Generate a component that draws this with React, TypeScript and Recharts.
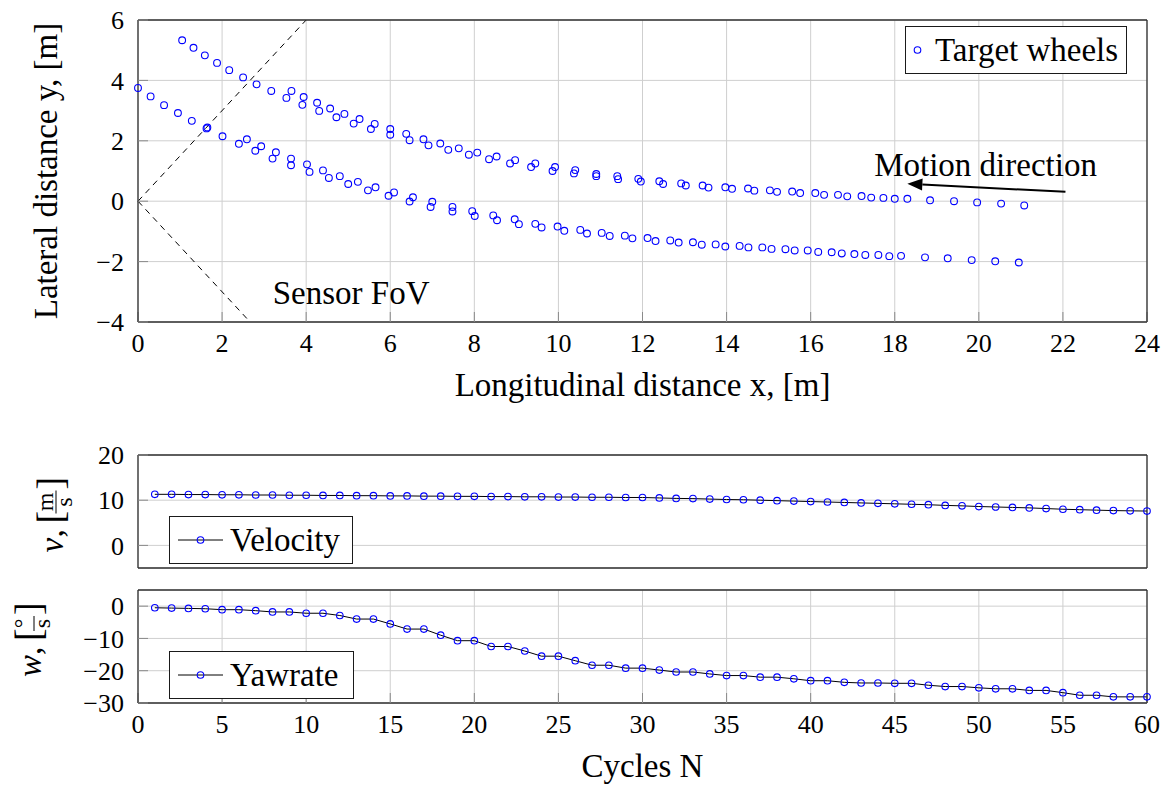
import React from 'react';
import {
  ScatterChart, Scatter, LineChart, Line, XAxis, YAxis, CartesianGrid,
  ReferenceLine, ReferenceDot, Legend,
} from 'recharts';

// ---------- Top chart data ----------
const wheelUpperX = [1.05, 1.32, 1.59, 1.88, 2.17, 2.5, 2.82, 3.17, 3.53, 3.65, 3.91, 3.94, 4.26, 4.31, 4.57, 4.72, 4.91, 5.13, 5.27, 5.54, 5.63, 6.0, 6.0, 6.38, 6.46, 6.79, 6.91, 7.19, 7.38, 7.63, 7.87, 8.07, 8.35, 8.53, 8.85, 8.97, 9.35, 9.45, 9.86, 9.92, 10.37, 10.4, 10.9, 10.9, 11.4, 11.42, 11.9, 11.96, 12.4, 12.49, 12.92, 13.03, 13.43, 13.57, 13.97, 14.13, 14.51, 14.66, 15.03, 15.2, 15.56, 15.75, 16.11, 16.32, 16.65, 16.87, 17.21, 17.44, 17.73, 18.0, 18.3, 18.84, 19.41, 19.96, 20.53, 21.08];
const wheelUpperY = [5.33, 5.08, 4.83, 4.58, 4.34, 4.1, 3.87, 3.65, 3.42, 3.65, 3.19, 3.45, 3.26, 2.99, 3.07, 2.78, 2.89, 2.57, 2.72, 2.39, 2.56, 2.39, 2.2, 2.23, 2.02, 2.05, 1.85, 1.91, 1.7, 1.75, 1.54, 1.61, 1.39, 1.48, 1.25, 1.36, 1.13, 1.25, 1.0, 1.13, 0.92, 1.03, 0.83, 0.9, 0.83, 0.73, 0.74, 0.65, 0.66, 0.57, 0.59, 0.52, 0.52, 0.45, 0.46, 0.41, 0.42, 0.35, 0.36, 0.31, 0.32, 0.27, 0.27, 0.21, 0.21, 0.16, 0.17, 0.12, 0.11, 0.08, 0.08, 0.03, 0.0, -0.04, -0.08, -0.14];
const wheelLowerX = [0.0, 0.3, 0.62, 0.95, 1.28, 1.63, 1.65, 2.01, 2.4, 2.59, 2.79, 2.93, 3.2, 3.28, 3.64, 3.64, 4.02, 4.08, 4.4, 4.54, 4.8, 5.0, 5.23, 5.47, 5.65, 5.96, 6.09, 6.46, 6.54, 6.96, 7.0, 7.48, 7.48, 7.95, 8.01, 8.45, 8.54, 8.96, 9.06, 9.45, 9.6, 9.98, 10.14, 10.52, 10.68, 11.03, 11.22, 11.58, 11.76, 12.12, 12.31, 12.66, 12.86, 13.2, 13.41, 13.74, 13.97, 14.31, 14.52, 14.85, 15.07, 15.4, 15.62, 15.93, 16.18, 16.5, 16.74, 17.04, 17.3, 17.61, 17.87, 18.15, 18.72, 19.26, 19.83, 20.39, 20.95];
const wheelLowerY = [3.75, 3.47, 3.18, 2.92, 2.66, 2.41, 2.44, 2.15, 1.9, 2.05, 1.67, 1.82, 1.41, 1.62, 1.19, 1.41, 1.22, 0.97, 1.02, 0.77, 0.83, 0.57, 0.64, 0.36, 0.46, 0.18, 0.29, -0.01, 0.13, -0.19, -0.02, -0.19, -0.34, -0.33, -0.49, -0.47, -0.63, -0.6, -0.76, -0.75, -0.87, -0.84, -0.98, -0.95, -1.07, -1.05, -1.15, -1.14, -1.23, -1.22, -1.32, -1.3, -1.37, -1.36, -1.44, -1.43, -1.5, -1.48, -1.53, -1.53, -1.58, -1.59, -1.63, -1.63, -1.68, -1.69, -1.73, -1.75, -1.78, -1.78, -1.82, -1.81, -1.86, -1.89, -1.95, -1.99, -2.03];

const fovUpper = [{ x: 0, y: 0 }, { x: 4, y: 6 }];
const fovLower = [{ x: 0, y: 0 }, { x: 2.667, y: -4 }];
const motionArrow = [{ x: 22.06, y: 0.31 }, { x: 18.3, y: 0.58 }];
const motionLabel = { x: 20.16, y: 0.83, text: 'Motion direction' };
const fovLabel = { x: 5.07, y: -3.39, text: 'Sensor FoV' };

const topXTicks = [0, 2, 4, 6, 8, 10, 12, 14, 16, 18, 20, 22, 24];
const topYTicks = [-4, -2, 0, 2, 4, 6];

// ---------- Bottom charts data ----------
const cycles = [1, 2, 3, 4, 5, 6, 7, 8, 9, 10, 11, 12, 13, 14, 15, 16, 17, 18, 19, 20, 21, 22, 23, 24, 25, 26, 27, 28, 29, 30, 31, 32, 33, 34, 35, 36, 37, 38, 39, 40, 41, 42, 43, 44, 45, 46, 47, 48, 49, 50, 51, 52, 53, 54, 55, 56, 57, 58, 59, 60];
const velocity = [11.3, 11.3, 11.25, 11.25, 11.2, 11.2, 11.15, 11.15, 11.1, 11.1, 11.05, 11.05, 11.0, 11.0, 10.95, 10.95, 10.9, 10.9, 10.85, 10.85, 10.8, 10.8, 10.75, 10.75, 10.7, 10.7, 10.65, 10.65, 10.6, 10.6, 10.5, 10.4, 10.35, 10.25, 10.15, 10.1, 10.0, 9.9, 9.8, 9.7, 9.6, 9.5, 9.4, 9.3, 9.2, 9.1, 9.0, 8.85, 8.75, 8.6, 8.5, 8.4, 8.3, 8.15, 8.0, 7.9, 7.8, 7.7, 7.65, 7.6];
const yawrate = [-0.5, -0.6, -0.7, -0.8, -1.1, -1.1, -1.4, -1.8, -1.8, -2.2, -2.2, -2.9, -4.0, -4.0, -5.5, -7.1, -7.1, -9.0, -10.7, -10.7, -12.5, -12.5, -13.9, -15.5, -15.5, -16.9, -18.3, -18.3, -19.2, -19.2, -19.8, -20.4, -20.4, -21.0, -21.5, -21.5, -22.0, -22.0, -22.5, -23.1, -23.1, -23.6, -23.8, -23.8, -23.9, -23.9, -24.5, -24.9, -24.9, -25.3, -25.6, -25.6, -26.1, -26.1, -26.8, -27.6, -27.6, -28.1, -28.1, -28.1];
const cycleTicks = [0, 5, 10, 15, 20, 25, 30, 35, 40, 45, 50, 55, 60];
const velTicks = [0, 10, 20];
const yawTicks = [-30, -20, -10, 0];

// ---------- styling ----------
const FONT = "'Liberation Serif', 'Times New Roman', serif";
const BLUE = '#0000ff';
const GRID = '#cfcfcf';
const FRAME = '#303030';
const TICKC = '#8a8a8a';
const tickStyle = { fontSize: 26, fill: '#000', fontFamily: FONT };
const fmt = (v: number) => String(v).replace('-', '\u2212');

const upperData = wheelUpperX.map((x, i) => ({ x, y: wheelUpperY[i] }));
const lowerData = wheelLowerX.map((x, i) => ({ x, y: wheelLowerY[i] }));
const seriesData = cycles.map((n, i) => ({ n, v: velocity[i], w: yawrate[i] }));

const OpenCircle = (p: any) => (
  <circle cx={p.cx} cy={p.cy} r={3.4} fill="none" stroke={BLUE} strokeWidth={1.1} />
);

const Arrow = (p: any) => {
  const { x1, y1, x2, y2 } = p;
  const dx = x2 - x1, dy = y2 - y1;
  const len = Math.sqrt(dx * dx + dy * dy) || 1;
  const ux = dx / len, uy = dy / len;
  const hl = 15, hw = 6;
  const bx = x2 - ux * hl, by = y2 - uy * hl;
  return (
    <g>
      <line x1={x1} y1={y1} x2={bx} y2={by} stroke="#000" strokeWidth={2} />
      <polygon
        points={`${x2},${y2} ${bx - uy * hw},${by + ux * hw} ${bx + uy * hw},${by - ux * hw}`}
        fill="#000"
      />
    </g>
  );
};

const Dashed = (p: any) => (
  <line x1={p.x1} y1={p.y1} x2={p.x2} y2={p.y2} stroke="#000" strokeWidth={1} strokeDasharray="6 5" />
);

const textLabel = (text: string) => (props: any) => {
  const vb = props.viewBox || {};
  return (
    <text x={vb.x} y={vb.y} textAnchor="middle" fontFamily={FONT} fontSize={33} fill="#000">
      {text}
    </text>
  );
};

const xLabel = (text: string) => (props: any) => {
  const vb = props.viewBox || {};
  return (
    <text x={vb.x + vb.width / 2} y={vb.y + vb.height} textAnchor="middle" fontFamily={FONT} fontSize={33} fill="#000">
      {text}
    </text>
  );
};

const yLabel = (text: string, baseX: number) => (props: any) => {
  const vb = props.viewBox || {};
  const cy = vb.y + vb.height / 2;
  return (
    <text transform={`translate(${vb.x + baseX},${cy}) rotate(-90)`} textAnchor="middle" fontFamily={FONT} fontSize={33} fill="#000">
      {text}
    </text>
  );
};

// rotated label with a small fraction: sym, [num/den]
const fracLabel = (sym: string, symW: number, num: string, numW: number, baseX: number, shift: number) => (props: any) => {
  const vb = props.viewBox || {};
  const cy = vb.y + vb.height / 2 + shift;
  const fracW = Math.max(numW, 11) + 4;
  const total = symW + 8 + 6 + 10 + fracW + 10 + 6;
  let x = -total / 2;
  const symX = x; x += symW;
  const commaX = x; x += 8 + 6;
  const lbX = x; x += 10;
  const fx = x; x += fracW + 1;
  const rbX = x;
  const fc = fx + fracW / 2;
  return (
    <g transform={`translate(${vb.x + baseX},${cy}) rotate(-90)`} fontFamily={FONT} fill="#000">
      <text x={symX} y={0} fontSize={33} fontStyle="italic">{sym}</text>
      <text x={commaX} y={0} fontSize={33}>,</text>
      <text x={lbX} y={0} fontSize={38}>[</text>
      <text x={fc} y={-10} fontSize={24} textAnchor="middle">{num}</text>
      <line x1={fx} x2={fx + fracW} y1={-7} y2={-7} stroke="#000" strokeWidth={1} />
      <text x={fc} y={9} fontSize={24} textAnchor="middle">s</text>
      <text x={rbX} y={0} fontSize={38}>]</text>
    </g>
  );
};

const LegendBox = ({ width, line, text }: { width: number; line: boolean; text: string }) => (
  <div
    style={{
      width, height: 48, boxSizing: 'border-box', border: '1.3px solid #1a1a1a', background: '#fff',
      display: 'flex', alignItems: 'center', fontFamily: FONT, fontSize: 33, lineHeight: '33px', color: '#000',
    }}
  >
    <svg width={line ? 58 : 22} height={20} style={{ marginLeft: line ? 8 : 6, flex: 'none' }}>
      {line && <line x1={0} x2={45} y1={10} y2={10} stroke="#000" strokeWidth={1} />}
      <circle cx={line ? 22.5 : 5.5} cy={10} r={3.3} fill="none" stroke={BLUE} strokeWidth={1.1} />
    </svg>
    <span style={{ marginLeft: line ? -6 : 1, whiteSpace: 'nowrap' }}>{text}</span>
  </div>
);

const dotRenderer = (p: any) => (
  <circle key={`d${p.index}`} cx={p.cx} cy={p.cy} r={3.3} fill="none" stroke={BLUE} strokeWidth={1.1} />
);

const axisLineStyle = { stroke: FRAME, strokeWidth: 1.3 };
const tickLineStyle = { stroke: TICKC, strokeWidth: 1 };

export default function App() {
  return (
    <div style={{ position: 'absolute', left: 0, top: 0, width: 1169, height: 785, background: '#fff', fontFamily: FONT }}>
      {/* ---------------- Top: target wheels ---------------- */}
      <div style={{ position: 'absolute', left: 0, top: 0 }}>
        <ScatterChart width={1169} height={410} margin={{ top: 19, right: 21, bottom: 14, left: 0 }}>
          <CartesianGrid stroke={GRID} strokeWidth={1} />
          <XAxis
            type="number" dataKey="x" domain={[0, 24]} ticks={topXTicks} height={74}
            axisLine={axisLineStyle} tickLine={tickLineStyle} tickSize={-10} tickMargin={22}
            tick={tickStyle} tickFormatter={fmt} interval={0}
            label={xLabel('Longitudinal distance x, [m]')}
          />
          <XAxis
            xAxisId="top" orientation="top" type="number" domain={[0, 24]} ticks={topXTicks} height={1}
            axisLine={axisLineStyle} tickLine={tickLineStyle} tickSize={-10} tick={false} interval={0}
          />
          <YAxis
            type="number" dataKey="y" domain={[-4, 6]} ticks={topYTicks} width={138}
            axisLine={axisLineStyle} tickLine={tickLineStyle} tickSize={-10} tickMargin={24}
            tick={tickStyle} tickFormatter={fmt} interval={0}
            label={yLabel('Lateral distance y, [m]', 57)}
          />
          <YAxis
            yAxisId="right" orientation="right" type="number" domain={[-4, 6]} ticks={topYTicks} width={1}
            axisLine={axisLineStyle} tickLine={tickLineStyle} tickSize={-10} tick={false} interval={0}
          />
          <ReferenceLine segment={fovUpper} shape={Dashed} ifOverflow="visible" />
          <ReferenceLine segment={fovLower} shape={Dashed} ifOverflow="visible" />
          <ReferenceLine segment={motionArrow} shape={Arrow} ifOverflow="visible" />
          <ReferenceDot x={motionLabel.x} y={motionLabel.y} r={0} stroke="none" fill="none" label={textLabel(motionLabel.text)} />
          <ReferenceDot x={fovLabel.x} y={fovLabel.y} r={0} stroke="none" fill="none" label={textLabel(fovLabel.text)} />
          <Scatter name="Target wheels" data={upperData} shape={OpenCircle} isAnimationActive={false} />
          <Scatter name="Target wheels lower" data={lowerData} shape={OpenCircle} isAnimationActive={false} legendType="none" />
          <Legend
            layout="vertical" align="center" verticalAlign="middle"
            wrapperStyle={{ left: 905, top: 26, width: 222, height: 48 }}
            content={() => <LegendBox width={222} line={false} text="Target wheels" />}
          />
        </ScatterChart>
      </div>

      {/* ---------------- Middle: velocity ---------------- */}
      <div style={{ position: 'absolute', left: 0, top: 435 }}>
        <LineChart width={1169} height={140} data={seriesData} margin={{ top: 19, right: 21, bottom: 6, left: 0 }}>
          <CartesianGrid stroke={GRID} strokeWidth={1} />
          <XAxis
            type="number" dataKey="n" domain={[0, 60]} ticks={cycleTicks} height={1}
            axisLine={axisLineStyle} tickLine={tickLineStyle} tickSize={-10} tick={false} interval={0}
          />
          <XAxis
            xAxisId="top" orientation="top" type="number" domain={[0, 60]} ticks={cycleTicks} height={1}
            axisLine={axisLineStyle} tickLine={tickLineStyle} tickSize={-10} tick={false} interval={0}
          />
          <YAxis
            type="number" domain={[-5, 20]} ticks={velTicks} width={138}
            axisLine={axisLineStyle} tickLine={tickLineStyle} tickSize={-10} tickMargin={24}
            tick={tickStyle} tickFormatter={fmt} interval={0}
            label={fracLabel('v', 15, 'm', 19, 63, 2)}
          />
          <YAxis
            yAxisId="right" orientation="right" type="number" domain={[-5, 20]} ticks={velTicks} width={1}
            axisLine={axisLineStyle} tickLine={tickLineStyle} tickSize={-10} tick={false} interval={0}
          />
          <Line type="linear" dataKey="v" stroke="#000" strokeWidth={1} dot={dotRenderer} isAnimationActive={false} />
          <Legend
            layout="vertical" align="center" verticalAlign="middle"
            wrapperStyle={{ left: 169, top: 81, width: 184, height: 48 }}
            content={() => <LegendBox width={184} line={true} text="Velocity" />}
          />
        </LineChart>
      </div>

      {/* ---------------- Bottom: yaw rate ---------------- */}
      <div style={{ position: 'absolute', left: 0, top: 570 }}>
        <LineChart width={1169} height={215} data={seriesData} margin={{ top: 19, right: 21, bottom: 8, left: 0 }}>
          <CartesianGrid stroke={GRID} strokeWidth={1} />
          <XAxis
            type="number" dataKey="n" domain={[0, 60]} ticks={cycleTicks} height={74}
            axisLine={axisLineStyle} tickLine={tickLineStyle} tickSize={-10} tickMargin={22}
            tick={tickStyle} tickFormatter={fmt} interval={0}
            label={xLabel('Cycles N')}
          />
          <XAxis
            xAxisId="top" orientation="top" type="number" domain={[0, 60]} ticks={cycleTicks} height={1}
            axisLine={axisLineStyle} tickLine={tickLineStyle} tickSize={-10} tick={false} interval={0}
          />
          <YAxis
            type="number" domain={[-30, 5]} ticks={yawTicks} width={138}
            axisLine={axisLineStyle} tickLine={tickLineStyle} tickSize={-10} tickMargin={24}
            tick={tickStyle} tickFormatter={fmt} interval={0}
            label={fracLabel('w', 22, '\u00b0', 10, 41, -8)}
          />
          <YAxis
            yAxisId="right" orientation="right" type="number" domain={[-30, 5]} ticks={yawTicks} width={1}
            axisLine={axisLineStyle} tickLine={tickLineStyle} tickSize={-10} tick={false} interval={0}
          />
          <Line type="linear" dataKey="w" stroke="#000" strokeWidth={1} dot={dotRenderer} isAnimationActive={false} />
          <Legend
            layout="vertical" align="center" verticalAlign="middle"
            wrapperStyle={{ left: 169, top: 81, width: 185, height: 48 }}
            content={() => <LegendBox width={185} line={true} text="Yawrate" />}
          />
        </LineChart>
      </div>
    </div>
  );
}
